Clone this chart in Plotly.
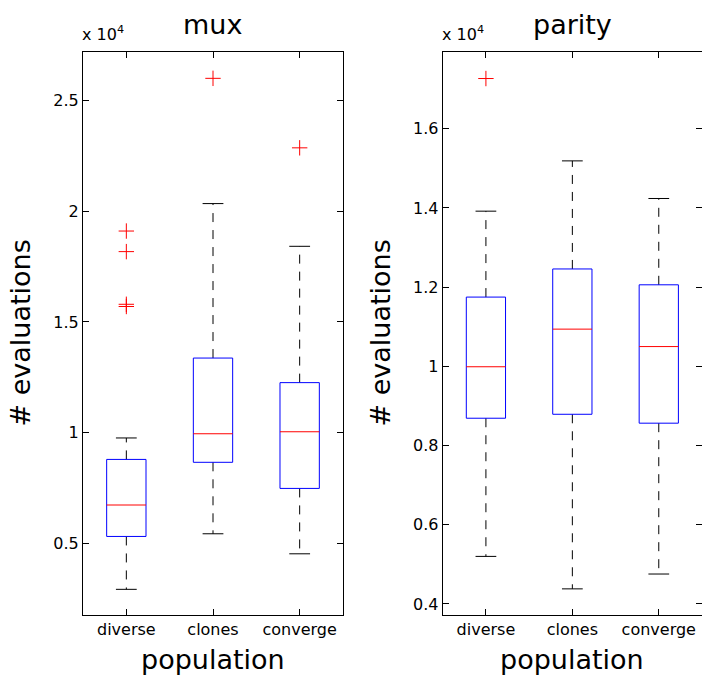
import plotly.graph_objects as go

# Population variants (shared x categories)
categories = ["diverse", "clones", "converge"]

# mux: evaluations needed, five-number summaries per population
mux_lower = [2920, 5430, 4525]
mux_q1 = [5310, 8660, 7480]
mux_median = [6730, 9950, 10040]
mux_q3 = [8790, 13370, 12260]
mux_upper = [9760, 20350, 18420]
mux_outliers = [[19110, 18180, 15800, 15700], [26010], [22870]]

# parity: evaluations needed, five-number summaries per population
parity_lower = [5200, 4380, 4755]
parity_q1 = [8690, 8790, 8565]
parity_median = [9990, 10940, 10500]
parity_q3 = [11750, 12460, 12060]
parity_upper = [13920, 15190, 14240]
parity_outliers = [[17270], [], []]

# y tick labels (values shown in units of 10^4)
mux_tickvals = [5000, 10000, 15000, 20000, 25000]
mux_ticktext = ["0.5", "1", "1.5", "2", "2.5"]
parity_tickvals = [4000, 6000, 8000, 10000, 12000, 14000, 16000]
parity_ticktext = ["0.4", "0.6", "0.8", "1", "1.2", "1.4", "1.6"]

W, H = 702, 677
FONT = "DejaVu Sans"
BOX_HALF = 0.227
CAP_HALF = 0.12


def px_x(p):
    return p / W


def px_y(p):
    return (H - p) / H


def box_traces(lower, q1, med, q3, upper, outliers, xa, ya):
    traces = []
    wx, wy, cx, cy, bx, by, mx, my, ox, oy = ([] for _ in range(10))
    for i in range(len(categories)):
        p = i + 1
        wx += [p, p, None, p, p, None]
        wy += [q3[i], upper[i], None, q1[i], lower[i], None]
        cx += [p - CAP_HALF, p + CAP_HALF, None, p - CAP_HALF, p + CAP_HALF, None]
        cy += [upper[i], upper[i], None, lower[i], lower[i], None]
        bx += [p - BOX_HALF, p + BOX_HALF, p + BOX_HALF, p - BOX_HALF, p - BOX_HALF, None]
        by += [q1[i], q1[i], q3[i], q3[i], q1[i], None]
        mx += [p - BOX_HALF, p + BOX_HALF, None]
        my += [med[i], med[i], None]
        for v in outliers[i]:
            ox.append(p)
            oy.append(v)
    common = dict(xaxis=xa, yaxis=ya, mode="lines", showlegend=False, hoverinfo="skip")
    traces.append(go.Scatter(x=wx, y=wy, line=dict(color="black", width=1, dash="9px,8px"), **common))
    traces.append(go.Scatter(x=cx, y=cy, line=dict(color="black", width=1), **common))
    traces.append(go.Scatter(x=bx, y=by, line=dict(color="#0000ff", width=1), **common))
    traces.append(go.Scatter(x=mx, y=my, line=dict(color="#ff0000", width=1), **common))
    traces.append(go.Scatter(
        x=ox, y=oy, xaxis=xa, yaxis=ya, mode="markers", showlegend=False, hoverinfo="skip",
        marker=dict(symbol="cross-thin-open", size=11, color="#ff0000",
                    line=dict(color="#ff0000", width=1)),
    ))
    return traces


fig = go.Figure()
for t in box_traces(mux_lower, mux_q1, mux_median, mux_q3, mux_upper, mux_outliers, "x", "y"):
    fig.add_trace(t)
for t in box_traces(parity_lower, parity_q1, parity_median, parity_q3, parity_upper, parity_outliers, "x2", "y2"):
    fig.add_trace(t)

ydom = [px_y(615), px_y(52)]
axis_common = dict(
    showline=True, linecolor="black", linewidth=1, mirror="ticks",
    ticks="inside", ticklen=6, tickcolor="black", tickwidth=1,
    showgrid=False, zeroline=False,
    tickfont=dict(family=FONT, size=16, color="black"),
)

fig.update_layout(
    width=W, height=H,
    margin=dict(l=0, r=0, t=0, b=0),
    paper_bgcolor="white", plot_bgcolor="white",
    xaxis=dict(domain=[px_x(83), px_x(343)], range=[0.5, 3.5],
               tickvals=[1, 2, 3], ticktext=categories, anchor="y", **axis_common),
    yaxis=dict(domain=ydom, range=[1760, 27200],
               tickvals=mux_tickvals, ticktext=mux_ticktext, anchor="x", **axis_common),
    xaxis2=dict(domain=[px_x(442.7), 1.0], range=[0.5, 3.5],
                tickvals=[1, 2, 3], ticktext=categories, anchor="y2", **axis_common),
    yaxis2=dict(domain=ydom, range=[3720, 17940],
                tickvals=parity_tickvals, ticktext=parity_ticktext, anchor="x2", **axis_common),
)

big = dict(family=FONT, size=27, color="black")
expo = dict(family=FONT, size=16, color="black")
ann = []
for cx_px, title in [(213, "mux"), (572.3, "parity")]:
    ann.append(dict(text=title, x=px_x(cx_px), y=px_y(42), xref="paper", yref="paper",
                    xanchor="center", yanchor="bottom", showarrow=False, font=big))
    ann.append(dict(text="population", x=px_x(cx_px), y=0, xref="paper", yref="paper",
                    xanchor="center", yanchor="bottom", showarrow=False, font=big))
for lx_px in [83, 442.7]:
    ann.append(dict(text="x 10<sup>4</sup>", x=px_x(lx_px - 3), y=px_y(46), xref="paper", yref="paper",
                    xanchor="left", yanchor="bottom", showarrow=False, font=expo))
for cx_px in [20, 380]:
    ann.append(dict(text="# evaluations", x=px_x(cx_px), y=px_y(333.5), xref="paper", yref="paper",
                    xanchor="center", yanchor="middle", textangle=-90, showarrow=False, font=big))
fig.update_layout(annotations=ann)

fig.write_html("out.html")
